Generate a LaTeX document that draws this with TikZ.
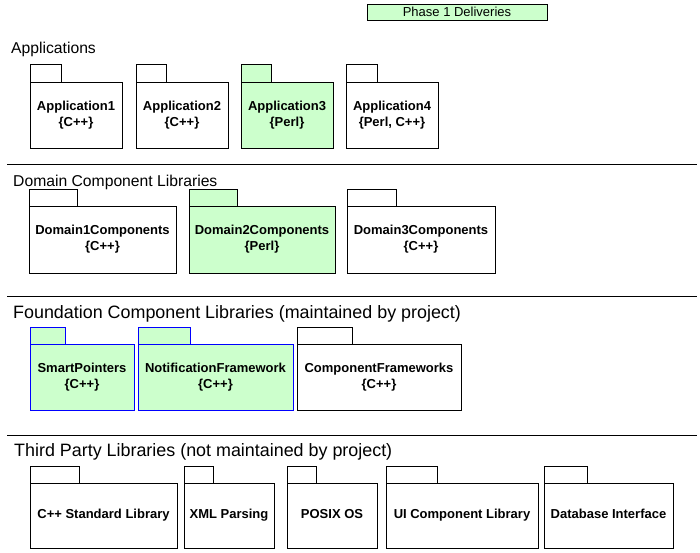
\documentclass[tikz,border=0pt]{standalone}
\usepackage{fontspec}
\setmainfont{Liberation Sans}
\definecolor{phase}{HTML}{CCFFCC}
\definecolor{pblue}{HTML}{0000FF}
\tikzset{
  x=1pt, y=-1pt,
  pkg/.style={draw=black, fill=white, line width=1pt, rectangle, inner sep=0pt, outer sep=0pt,
    align=center, font=\fontsize{13}{16}\selectfont\bfseries},
  green/.style={fill=phase},
  blueline/.style={draw=pblue},
  tabbox/.style={draw=black, fill=white, line width=1pt},
  tabgreen/.style={draw=black, fill=phase, line width=1pt},
  tabblue/.style={draw=pblue, fill=phase, line width=1pt},
  title/.style={anchor=base west, inner sep=0pt, font=\fontsize{15.7}{18}\selectfont},
  bigtitle/.style={anchor=base west, inner sep=0pt, font=\fontsize{17.9}{20}\selectfont},
  sepline/.style={draw=black, line width=1pt},
}
\begin{document}
\begin{tikzpicture}
\useasboundingbox[fill=white] (0,0) rectangle (700,552);

% legend
\node[draw=black, fill=phase, line width=1pt, inner sep=0pt, outer sep=0pt,
  minimum width=180, minimum height=16, font=\fontsize{13}{15}\selectfont] (legend) at (457,12) {Phase 1 Deliveries};

% titles
\node[title] (tapp) at (11,53) {Applications};
\node[title] (tdom) at (13,186) {Domain Component Libraries};
\node[bigtitle] (tfnd) at (13,318) {Foundation Component Libraries (maintained by project)};
\node[bigtitle] (ttp) at (14,456) {Third Party Libraries (not maintained by project)};

% separators
\coordinate (s1a) at (7,164); \coordinate (s1b) at (697,164);
\coordinate (s2a) at (7,296); \coordinate (s2b) at (697,296);
\coordinate (s3a) at (7,435); \coordinate (s3b) at (697,435);
\draw[sepline] (s1a) -- (s1b);
\draw[sepline] (s2a) -- (s2b);
\draw[sepline] (s3a) -- (s3b);

% Applications row
\draw[tabbox] (30,64) rectangle (61,82);
\node[pkg, minimum width=92, minimum height=66] (app1) at (76,115) {Application1\\\{C++\}};
\draw[tabbox] (136,64) rectangle (166,82);
\node[pkg, minimum width=92, minimum height=66] (app2) at (182,115) {Application2\\\{C++\}};
\draw[tabgreen] (241,64) rectangle (271,82);
\node[pkg, green, minimum width=92, minimum height=66] (app3) at (287,115) {Application3\\\{Perl\}};
\draw[tabbox] (346,64) rectangle (377,82);
\node[pkg, minimum width=92, minimum height=66] (app4) at (392,115) {Application4\\\{Perl, C++\}};

% Domain row
\draw[tabbox] (29,189) rectangle (77,206);
\node[pkg, minimum width=147, minimum height=67] (dom1) at (102.5,239.5) {Domain1Components\\\{C++\}};
\draw[tabgreen] (189,189) rectangle (237,206);
\node[pkg, green, minimum width=146, minimum height=67] (dom2) at (262,239.5) {Domain2Components\\\{Perl\}};
\draw[tabbox] (347,189) rectangle (396,206);
\node[pkg, minimum width=148, minimum height=67] (dom3) at (421,239.5) {Domain3Components\\\{C++\}};

% Foundation row
\draw[tabblue] (30,327) rectangle (65,344);
\node[pkg, green, blueline, minimum width=104, minimum height=66] (sp) at (82,377) {SmartPointers\\\{C++\}};
\draw[tabblue] (138,327) rectangle (190,344);
\node[pkg, green, blueline, minimum width=155, minimum height=66] (nf) at (215.5,377) {NotificationFramework\\\{C++\}};
\draw[tabbox] (297,327) rectangle (352,344);
\node[pkg, minimum width=164, minimum height=66] (cf) at (379,377) {ComponentFrameworks\\\{C++\}};

% Third party row
\draw[tabbox] (30,466) rectangle (79,483);
\node[pkg, minimum width=147, minimum height=65] (std) at (103.5,515.5) {C++ Standard Library\vphantom{y}};
\draw[tabbox] (184,466) rectangle (213,483);
\node[pkg, minimum width=90, minimum height=65] (xml) at (229,515.5) {XML Parsing\vphantom{y}};
\draw[tabbox] (287,466) rectangle (316,483);
\node[pkg, minimum width=90, minimum height=65] (posix) at (332,515.5) {POSIX OS\vphantom{y}};
\draw[tabbox] (386,466) rectangle (437,483);
\node[pkg, minimum width=152, minimum height=65] (ui) at (462,515.5) {UI Component Library\vphantom{y}};
\draw[tabbox] (544,466) rectangle (587,483);
\node[pkg, minimum width=129, minimum height=65] (db) at (608.5,515.5) {Database Interface\vphantom{y}};
\end{tikzpicture}
\end{document}
